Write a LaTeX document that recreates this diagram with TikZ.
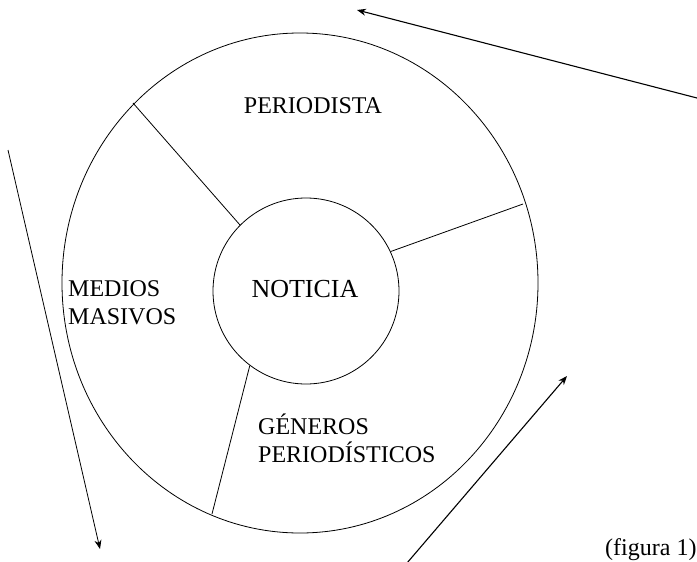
\documentclass[tikz,border=0pt]{standalone}
\usepackage{fontspec}
\setmainfont{Liberation Serif}
\usepackage{tikz}
\usetikzlibrary{shapes, arrows.meta}

\begin{document}
\begin{tikzpicture}[x=1pt, y=-1pt,
  label/.style={inner sep=0pt, font=\fontsize{24}{28}\selectfont},
  flow/.style={-{Stealth[length=9pt, width=7pt]}, line width=1.1pt}]

\useasboundingbox (0,0) rectangle (697,562);
\clip (0,0) rectangle (697,562);

% -------------------------
% Outer ring
% -------------------------
\draw[line width=0.8pt] (300,283) ellipse [x radius=238, y radius=250];

% -------------------------
% Centre
% -------------------------
\node[circle, draw, line width=0.8pt, minimum size=186pt, inner sep=0pt] (noticia) at (306,291) {};
\node[label, anchor=base, font=\fontsize{26}{28}\selectfont] (noticiaText) at (305,297) {NOTICIA};

% -------------------------
% Sectors
% -------------------------
\coordinate (cutA) at (133,103);
\coordinate (cutB) at (523,204);
\coordinate (cutC) at (212,514);

\draw[line width=0.8pt] (noticia.135.8) -- (cutA);
\draw[line width=0.8pt] (noticia.25.5)  -- (cutB);
\draw[line width=0.8pt] (noticia.233.4) -- (cutC);

% -------------------------
% Sector labels
% -------------------------
\node[label, anchor=base] (periodista) at (313,113) {PERIODISTA};
\node[label, anchor=north west, align=left] (medios) at (68,280) {MEDIOS\\MASIVOS};
\node[label, anchor=north west, align=left] (generos) at (258,414) {GÉNEROS\\PERIODÍSTICOS};

\node[label, anchor=base west] (figura) at (605,555) {(figura 1)};

% -------------------------
% Arrows around the ring
% -------------------------
\coordinate (topStart) at (697,98);
\coordinate (topEnd)   at (357,10);
\coordinate (leftStart) at (8,150);
\coordinate (leftEnd)   at (100,549);
\coordinate (botStart) at (407,563);
\coordinate (botEnd)   at (567,376);

\draw[flow] (topStart) -- (topEnd);
\draw[flow, line width=0.8pt] (leftStart) -- (leftEnd);
\draw[flow] (botStart) -- (botEnd);

\end{tikzpicture}
\end{document}
